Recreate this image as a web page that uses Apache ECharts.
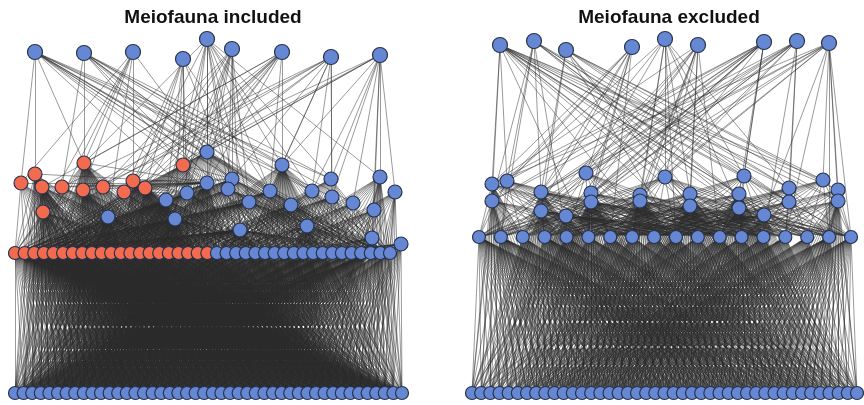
<!DOCTYPE html>
<html>
<head>
<meta charset="utf-8">
<script src="https://cdn.jsdelivr.net/npm/echarts@6/dist/echarts.min.js"></script>
<style>
  html, body { margin: 0; padding: 0; background: #fff; }
  #chart { width: 864px; height: 405px; }
</style>
</head>
<body>
<div id="chart"></div>
<script>
// ---- data: food web, meiofauna included (left) ----
var titles = ['Meiofauna included', 'Meiofauna excluded'];

// top predators and scattered intermediate consumers, [x, y] in plot units
var topL = [[35,52],[84,53],[133,52],[183,59],[207,39],[232,49],[282,52],[331,57],[380,55]];
var midL = [[84,163],[183,165],[35,174],[21,183],[42,187],[62,187],[83,190],[103,187],[133,181],[124,192],[145,188],[43,212],
  [207,152],[282,165],[232,179],[207,183],[228,189],[331,179],[380,177],[187,193],[166,200],[270,191],[312,191],[332,197],
  [395,192],[249,202],[291,205],[353,203],[374,210],[108,217],[175,219],[240,230],[307,226],[372,238],[401,244]];
var midMeioL = 12;          // first 12 mid nodes are meiofauna
var rowCountL = 40, rowMeioL = 21;
var baseCountL = 46;

// who eats whom (t = top, m = mid, r = row, b = basal)
var dietL = [
  ['t0', 'm0 m2 m3 m12-14 m17 m21-23 m25 m26 m32 r25 r30'],
  ['t1', 'm0 m5 m13 m14 m17 m21 m22 m26 m27 m31 m32 r28'],
  ['t2', 'm0 m3 m6 m8 m11 m12 m29 r2'],
  ['t3', 'm1 m9 m10 m14 m19-21 m30 r10'],
  ['t4', 'm0 m1 m8 m12-22 m25'],
  ['t5', 'm1 m7 m8 m10 m12 m14-16 m19 m25 m31 r15'],
  ['t6', 'm0 m1 m4 m7-10 m12 m13 m15 m20 m21 m29'],
  ['t7', 'm1 m5-7 m12-14 m17 m21-23'],
  ['t8', 'm1 m9 m11-13 m17 m18 m22-24 m27 m28 m33'],
  ['m0', 'r0-20 b0-30'], ['m1', 'r0-24'], ['m2', 'r0-14 b0-20'], ['m3', 'r0-12'],
  ['m4', 'r0-18 b0-25'], ['m5', 'r0-20'], ['m6', 'r2-20 b5-35'], ['m7', 'r0-20'],
  ['m8', 'r4-24 b10-40'], ['m9', 'r3-22'], ['m10', 'r6-26 b10-45'], ['m11', 'r0-16 b0-25'],
  ['m12', 'r0-39'], ['m13', 'r15-39 b20-45'], ['m14', 'm1 m8 m10 r0-39'],
  ['m15', 'm0-10 r0-30 b0-30'], ['m16', 'r5-39'], ['m17', 'r18-39'],
  ['m18', 'r25-39 b35-45'], ['m19', 'm8-10 r0-30'], ['m20', 'r0-28 b0-25'],
  ['m21', 'r5-39'], ['m22', 'r20-39'], ['m23', 'r15-39'],
  ['m24', 'r28-39 b40-45'], ['m25', 'r0-39'], ['m26', 'r15-39'],
  ['m27', 'r22-39'], ['m28', 'r25-39'], ['m29', 'r0-20 b0-20'],
  ['m30', 'r0-30 b5-30'], ['m31', 'r0-39 b5-45'], ['m32', 'r20-39 b20-45'],
  ['m33', 'r28-39 b30-45'], ['m34', 'r30-39 b35-45']
];
// basal prey range [from, to] of each row consumer
var rowPreyL = [[0,40],[0,45],[1,44],[0,45],[0,43],[0,45],[2,45],[0,44],[1,45],[0,45],[3,45],
  [0,44],[1,45],[0,45],[4,45],[0,45],[2,45],[0,43],[5,45],[1,45],[3,45],
  [0,40],[0,42],[0,38],[2,44],[0,40],[1,42],[0,36],[4,45],[0,40],[6,45],
  [0,36],[8,45],[0,32],[10,45],[3,42],[12,45],[0,28],[16,45],[20,45]];

// ---- data: meiofauna excluded (right) ----
var topR = [[500,45],[534,41],[566,50],[632,47],[665,39],[698,45],[764,42],[797,41],[829,43]];
var midR = [[586,173],[665,177],[744,176],[823,180],[492,184],[507,181],[541,192],[591,193],[640,195],[690,194],
  [739,194],[789,188],[838,190],[492,201],[591,202],[640,201],[690,206],[739,208],[789,202],[838,201],
  [541,211],[566,216],[764,215]];
var rowCountR = 18;
var baseCountR = 43;
var dietR = [
  ['t0', 'm2-5 m9-13 m16-19 m22 r5 r8 r10 r12 r15'],
  ['t1', 'm2 m5 m6 m10 m11 m13 m17 m18 m22 r1 r4'],
  ['t2', 'm3 m6 m9 m11 m12 m16 m18-20 r9'],
  ['t3', 'm0 m4-7 m13 m14 r2 r6'],
  ['t4', 'm0 m1 m2 m5 m6 m8 m9 m11 m15 m17 r9'],
  ['t5', 'm0 m1 m4 m7-9 m15 m16 m20 m21 r7 r11'],
  ['t6', 'm0 m2 m4-8 m10 m13 m14 m17 m20 m21 r0 r3'],
  ['t7', 'm0 m1 m6-8 m11 m13 m14 m18 m20 r3 r13'],
  ['t8', 'm0 m1 m3 m4 m6-8 m12 m14 m19 m22 r14 r16 r17'],
  ['m0', 'r0-13'], ['m1', 'r0-17'], ['m2', 'r3-17'], ['m3', 'r6-17'],
  ['m4', 'r0-10 b0-15'], ['m5', 'r0-12'], ['m6', 'r0-14 b0-25'], ['m7', 'r0-15 b5-30'],
  ['m8', 'r0-17 b5-35'], ['m9', 'r2-17 b10-40'], ['m10', 'r3-17 b12-42'], ['m11', 'r5-17'],
  ['m12', 'r8-17 b28-42'], ['m13', 'r0-9 b0-10'], ['m14', 'r0-15 b0-30'], ['m15', 'r0-17 b8-38'],
  ['m16', 'r2-17 b10-42'], ['m17', 'r4-17 b15-42'], ['m18', 'r6-17'], ['m19', 'r8-17 b32-42'],
  ['m20', 'r0-12 b0-22'], ['m21', 'r0-14 b0-28'], ['m22', 'r4-17 b15-42']
];
var rowPreyR = [[0,34],[0,38],[0,32],[2,40],[0,36],[4,42],[1,38],[5,42],[2,40],
  [3,41],[0,38],[6,42],[4,42],[8,42],[5,42],[9,42],[6,42],[12,42]];

// ---- layout / style ----
var BLUE = '#6688d4', ORANGE = '#f36b4f', EDGE = '#2a2a2a';

function rowNodes(prefix, n, x0, x1, y, size, colorOf) {
  var out = [];
  for (var i = 0; i < n; i++) {
    out.push({ name: prefix + i, value: [x0 + (x1 - x0) * i / (n - 1), y],
      symbolSize: size, itemStyle: { color: colorOf(i) } });
  }
  return out;
}

function expand(spec) {
  var out = [];
  spec.split(' ').forEach(function (tok) {
    var m = tok.match(/^([a-z])(\d+)(?:-(\d+))?$/);
    var a = +m[2], b = m[3] ? +m[3] : a;
    for (var i = a; i <= b; i++) out.push(m[1] + i);
  });
  return out;
}

function buildPanel(top, mid, midMeio, rowN, rowMeio, baseN, diet, rowPrey, rowX, rowY, baseX) {
  var nodes = [];
  nodes = nodes.concat(rowNodes('b', baseN, baseX[0], baseX[1], 393, 13, function () { return BLUE; }));
  mid.forEach(function (p, i) {
    nodes.push({ name: 'm' + i, value: p, symbolSize: 14, itemStyle: { color: i < midMeio ? ORANGE : BLUE } });
  });
  nodes = nodes.concat(rowNodes('r', rowN, rowX[0], rowX[1], rowY, 13, function (i) { return i < rowMeio ? ORANGE : BLUE; }));
  top.forEach(function (p, i) {
    nodes.push({ name: 't' + i, value: p, symbolSize: 15, itemStyle: { color: BLUE } });
  });
  var links = [];
  diet.forEach(function (d) {
    expand(d[1]).forEach(function (t) { links.push({ source: d[0], target: t }); });
  });
  rowPrey.forEach(function (rg, i) {
    for (var j = rg[0]; j <= rg[1]; j++) links.push({ source: 'r' + i, target: 'b' + j });
  });
  return {
    type: 'graph',
    coordinateSystem: 'cartesian2d',
    data: nodes,
    links: links,
    silent: true,
    emphasis: { disabled: true },
    itemStyle: { borderColor: '#27324c', borderWidth: 1.2 },
    lineStyle: { color: EDGE, width: 0.8, opacity: 0.6, curveness: 0 },
    label: { show: false }
  };
}

var chart = echarts.init(document.getElementById('chart'));
chart.setOption({
  animation: false,
  backgroundColor: '#fff',
  title: [
    { text: titles[0], left: 208, top: 3, textAlign: 'center',
      textStyle: { fontSize: 19, fontWeight: 'bold', color: '#111', fontFamily: 'Liberation Sans' } },
    { text: titles[1], left: 664, top: 3, textAlign: 'center',
      textStyle: { fontSize: 19, fontWeight: 'bold', color: '#111', fontFamily: 'Liberation Sans' } }
  ],
  grid: { left: 0, right: 0, top: 0, bottom: 0 },
  xAxis: { type: 'value', min: 0, max: 864, show: false },
  yAxis: { type: 'value', min: 0, max: 405, inverse: true, show: false },
  series: [
    buildPanel(topL, midL, midMeioL, rowCountL, rowMeioL, baseCountL, dietL, rowPreyL, [15, 390], 253, [15, 402]),
    buildPanel(topR, midR, 0, rowCountR, 0, baseCountR, dietR, rowPreyR, [479, 851], 237, [472, 857])
  ]
});
</script>
</body>
</html>
